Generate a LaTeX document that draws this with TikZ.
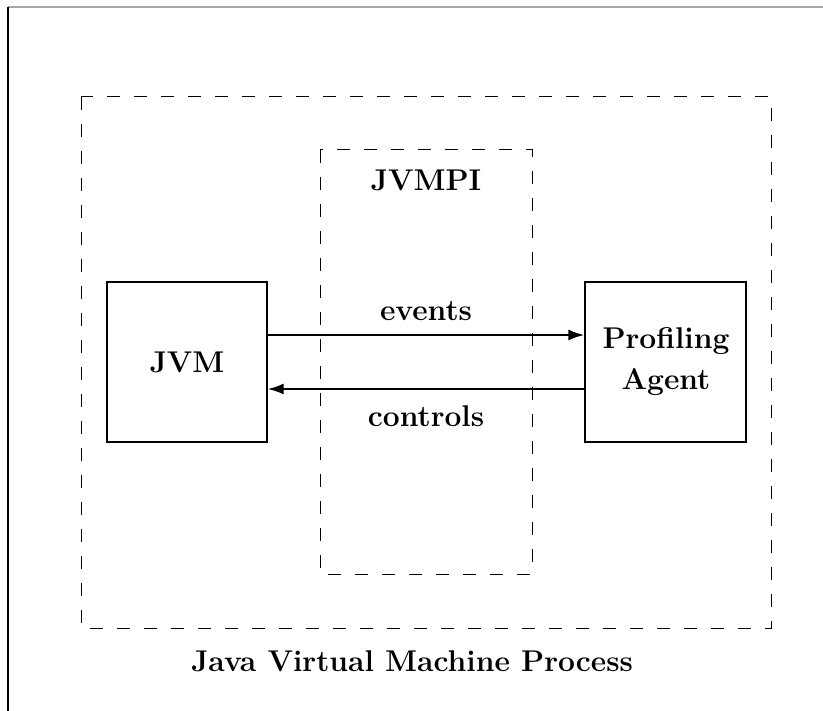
\documentclass[tikz,border=0pt]{standalone}
\usetikzlibrary{arrows.meta}
\begin{document}
\begin{tikzpicture}[x=1pt,y=-1pt,
  lbl/.style={font=\fontsize{30}{41}\selectfont\bfseries, inner sep=0pt, align=center},
  dbox/.style={draw, line width=1pt, dash pattern=on 13pt off 14pt},
  sbox/.style={draw, line width=1.3pt},
  conn/.style={line width=2pt, -{Latex[length=16pt,width=11pt]}}]
\useasboundingbox (0,0) rectangle (823,711);
\draw[gray!70, line width=1.5pt] (8,7) -- (823,7);
\draw[line width=1.5pt] (8,7) -- (8,711);
\draw[dbox] (81,97) rectangle (771,628);
\draw[dbox] (320,150) rectangle (532,574);
\node[sbox, minimum width=160pt, minimum height=160pt, inner sep=0pt] (jvm) at (187,362) {};
\node[sbox, minimum width=161pt, minimum height=160pt, inner sep=0pt] (agent) at (665.5,362) {};
\node[lbl] at (jvm.center) {JVM};
\node[lbl] at (666,362) {Profiling\\Agent};
\node[lbl] (jvmpi) at (426,180) {JVMPI};
\coordinate (e1) at (jvm.east |- 0,335);
\coordinate (e2) at (agent.west |- 0,335);
\coordinate (c1) at (agent.west |- 0,389);
\coordinate (c2) at (jvm.east |- 0,389);
\draw[conn] (e1) -- (e2) node[lbl, midway, yshift=24pt] {events};
\draw[conn] (c1) -- (c2) node[lbl, midway, yshift=-27pt] {controls};
\node[lbl] (title) at (412,661) {Java Virtual Machine Process};
\end{tikzpicture}
\end{document}
